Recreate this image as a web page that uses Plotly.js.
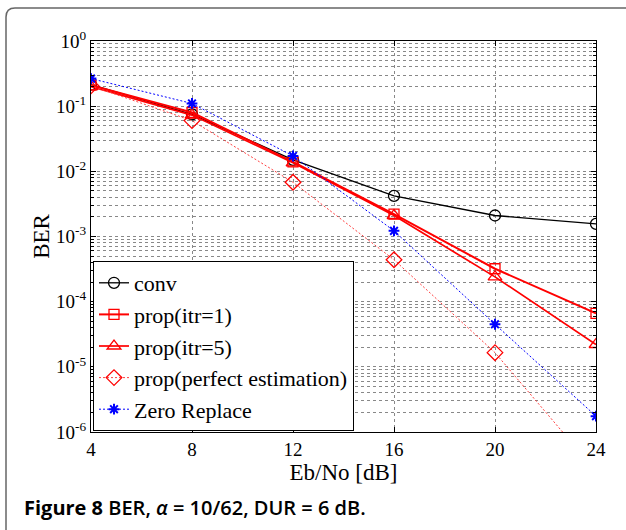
<!DOCTYPE html>
<html><head><meta charset="utf-8">
<script src="https://cdn.plot.ly/plotly-3.0.1.min.js"></script>
<style>html,body{margin:0;padding:0;background:#fff}#c{width:626px;height:530px}</style>
</head><body><div id="c"></div>
<script>
const ebno = [4, 8, 12, 16, 20, 24];
const conv = [0.215, 0.075, 0.0150, 0.0042, 0.0021, 0.00156];
const propItr1 = [0.21, 0.080, 0.0140, 0.0022, 3.2e-4, 6.6e-5];
const propItr5 = [0.20, 0.073, 0.0135, 0.0021, 2.4e-4, 2.2e-5];
const propPerfect = [0.205, 0.060, 0.0068, 4.4e-4, 1.65e-5, 2.5e-7];
const zeroReplace = [0.265, 0.110, 0.0172, 0.00122, 4.5e-5, 1.75e-6];
const seriesNames = ['conv', 'prop(itr=1)', 'prop(itr=5)', 'prop(perfect estimation)', 'Zero Replace'];
const yTickVals = [1e-6, 1e-5, 1e-4, 1e-3, 1e-2, 1e-1, 1];
const yTickText = ['10<sup>-6</sup>','10<sup>-5</sup>','10<sup>-4</sup>','10<sup>-3</sup>','10<sup>-2</sup>','10<sup>-1</sup>','10<sup>0</sup>'];
const xTickVals = [4, 8, 12, 16, 20, 24];

const L = 91, R = 596, T = 41, B = 432, W = 626, H = 530;
const px = v => (v - L) / (R - L);
const py = v => (B - v) / (B - T);

const traces = [
  {x: ebno, y: conv, name: seriesNames[0], mode: 'lines+markers',
   line: {color: '#000', width: 1.3},
   marker: {symbol: 'circle-open', size: 11, color: '#000', line: {width: 1.3}}},
  {x: ebno, y: propItr1, name: seriesNames[1], mode: 'lines+markers',
   line: {color: '#ff0000', width: 2},
   marker: {symbol: 'square-open', size: 10, color: '#ff0000', line: {width: 1.3}}},
  {x: ebno, y: propItr5, name: seriesNames[2], mode: 'lines+markers',
   line: {color: '#ff0000', width: 1.7},
   marker: {symbol: 'triangle-up-open', size: 12, color: '#ff0000', line: {width: 1.3}}},
  {x: ebno, y: propPerfect, name: seriesNames[3], mode: 'lines+markers',
   line: {color: '#ff4040', width: 1, dash: '2px,2px'},
   marker: {symbol: 'diamond-open', size: 12, color: '#ff0000', line: {width: 1.3}}},
  {x: ebno, y: zeroReplace, name: seriesNames[4], mode: 'lines+markers',
   line: {color: '#0000ff', width: 1, dash: '2px,2px'},
   marker: {symbol: 'asterisk-open', size: 9, color: '#0000ff', line: {width: 2, color: '#0000ff'}}}
];

const serif = 'Liberation Serif, Times New Roman, serif';
const layout = {
  width: W, height: H,
  margin: {l: L, r: W - R, t: T, b: H - B},
  paper_bgcolor: '#fff', plot_bgcolor: '#fff',
  showlegend: true,
  legend: {x: px(93), xanchor: 'left', y: py(431), yanchor: 'bottom',
    bgcolor: '#fff', bordercolor: '#000', borderwidth: 1,
    font: {family: serif, size: 22, color: '#000'}, tracegroupgap: 0, itemwidth: 30},
  xaxis: {range: [4, 24], tickvals: xTickVals, ticktext: xTickVals.map(String),
    showgrid: true, gridcolor: '#888', griddash: 'dot', gridwidth: 1,
    zeroline: false, showline: true, linecolor: '#000', linewidth: 1, mirror: 'ticks',
    ticks: 'inside', ticklen: 5, tickcolor: '#000',
    tickfont: {family: serif, size: 19, color: '#000'},
    title: {text: 'Eb/No [dB]', font: {family: serif, size: 23, color: '#000'}, standoff: 2}},
  yaxis: {type: 'log', range: [-6, 0], tickvals: yTickVals, ticktext: yTickText,
    showgrid: true, gridcolor: '#888', griddash: 'dot', gridwidth: 1,
    minor: {dtick: 'D1', showgrid: true, gridcolor: '#888', griddash: 'dot', gridwidth: 1,
      ticks: 'inside', ticklen: 3, tickcolor: '#000'},
    zeroline: false, showline: true, linecolor: '#000', linewidth: 1, mirror: 'ticks',
    ticks: 'inside', ticklen: 5, tickcolor: '#000',
    tickfont: {family: serif, size: 19, color: '#000'},
    title: {text: 'BER', font: {family: serif, size: 23, color: '#000'}, standoff: 0}},
  shapes: [{type: 'path', xref: 'paper', yref: 'paper',
    path: `M ${px(6)},${py(535)} L ${px(6)},${py(17)} Q ${px(6)},${py(8)} ${px(15)},${py(8)} L ${px(630)},${py(8)}`,
    line: {color: '#666', width: 1.5}}],
  annotations: [{xref: 'paper', yref: 'paper', x: px(22), y: py(507), xanchor: 'left', yanchor: 'middle',
    showarrow: false, align: 'left',
    text: '<b>Figure 8</b> BER, <i>α</i> = 10/62, DUR = 6 dB.',
    font: {family: 'Open Sans, Noto Sans, sans-serif', size: 20, color: '#000', weight: 600}}]
};
Plotly.newPlot('c', traces, layout, {displayModeBar: false, staticPlot: true});
</script></body></html>
